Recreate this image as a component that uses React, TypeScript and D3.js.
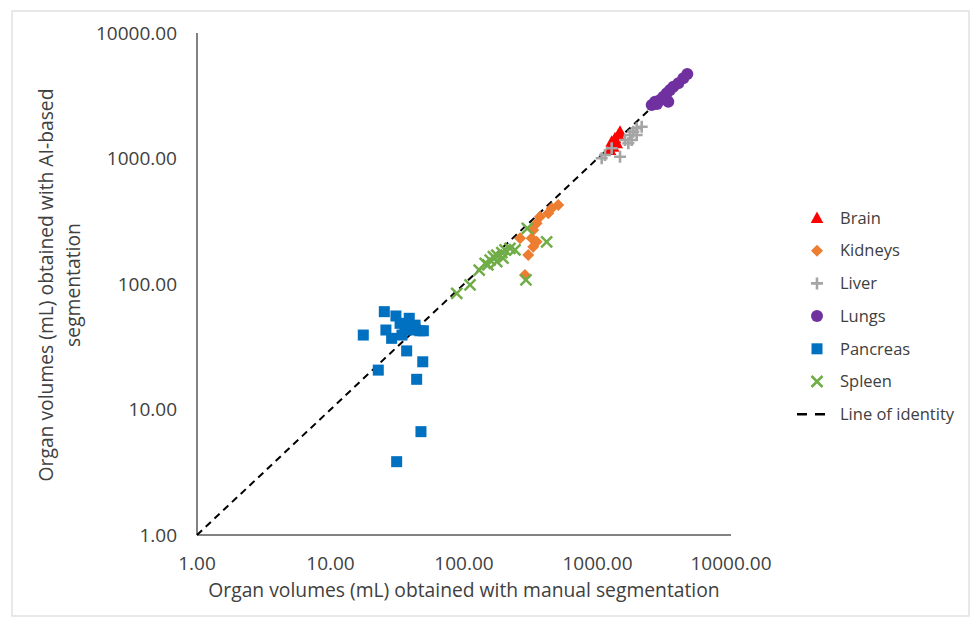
import React from "react";
import * as d3 from "d3";

// manual (x) vs AI-based (y) volumes, mL
const brainX = [1277, 1352, 1432, 1475, 1313, 1241, 1393];
const brainY = [1361, 1449, 1539, 1636, 1242, 1169, 1322];

const kidneysX = [508, 454, 428, 371, 350, 330, 321, 263, 350, 330, 303, 286];
const kidneysY = [426, 401, 366, 344, 305, 269, 231, 231, 217, 198, 170, 118];

const liverX = [1075, 1138, 1277, 1475, 1607, 1751, 1855, 1966, 2143, 1701, 1803, 1966];
const liverY = [1004, 1066, 1206, 1033, 1404, 1539, 1636, 1740, 1793, 1322, 1404, 1539];

const lungsX = [2547, 2697, 2940, 3112, 3298, 3493, 3698, 4031, 4393, 4706, 3390, 2790];
const lungsY = [2669, 2837, 2925, 3110, 3311, 3515, 3735, 3973, 4357, 4713, 2837, 2718];

const pancreasX = [25.3, 30.9, 38.9, 33.2, 17.6, 26.0, 28.7, 36.1, 40.6, 46.8, 49.6, 37.2, 49.1, 22.8, 44.2, 47.6, 31.3, 43.0, 34.3];
const pancreasY = [60.2, 55.6, 53.3, 48.6, 39.2, 43.0, 36.9, 44.4, 43.0, 42.4, 42.4, 29.3, 24.0, 20.6, 17.4, 6.66, 3.84, 47.0, 39.2];

const spleenX = [88.2, 111, 130, 144, 157, 166, 176, 192, 203, 221, 241, 176, 298, 416, 291, 151, 196];
const spleenY = [84.3, 98.2, 129, 146, 155, 165, 170, 178, 187, 192, 187, 151, 278, 217, 108, 142, 161];

const identityLine = [1, 5000];

const tickValues = [1, 10, 100, 1000, 10000];
const legendLabels = ["Brain", "Kidneys", "Liver", "Lungs", "Pancreas", "Spleen", "Line of identity"];

const FONT = "'Open Sans', sans-serif";

type Shape = "triangle" | "diamond" | "plus" | "circle" | "square" | "cross";

function Marker({ shape, color, x, y }: { shape: Shape; color: string; x: number; y: number }) {
  const t = `translate(${x},${y})`;
  switch (shape) {
    case "triangle":
      return <path transform={t} d="M0,-6.5 L6.3,5 L-6.3,5 Z" fill={color} />;
    case "diamond":
      return <path transform={t} d="M0,-6 L6,0 L0,6 L-6,0 Z" fill={color} />;
    case "circle":
      return <circle cx={x} cy={y} r={6} fill={color} />;
    case "square":
      return <rect x={x - 5.5} y={y - 5.5} width={11} height={11} fill={color} />;
    case "plus":
      return <path transform={t} d="M-6,0 H6 M0,-6 V6" stroke={color} strokeWidth={2.6} fill="none" />;
    case "cross":
      return <path transform={t} d="M-5.5,-5.5 L5.5,5.5 M-5.5,5.5 L5.5,-5.5" stroke={color} strokeWidth={2.5} fill="none" />;
  }
}

export default function App() {
  const W = 970, H = 617;
  const x = d3.scaleLog().domain([1, 10000]).range([197, 731]);
  const y = d3.scaleLog().domain([1, 10000]).range([535, 33]);
  const fmt = d3.format(".2f");

  const series: { name: string; shape: Shape; color: string; xs: number[]; ys: number[] }[] = [
    { name: "Pancreas", shape: "square", color: "#0070C0", xs: pancreasX, ys: pancreasY },
    { name: "Spleen", shape: "cross", color: "#70AD47", xs: spleenX, ys: spleenY },
    { name: "Kidneys", shape: "diamond", color: "#ED7D31", xs: kidneysX, ys: kidneysY },
    { name: "Liver", shape: "plus", color: "#A5A5A5", xs: liverX, ys: liverY },
    { name: "Brain", shape: "triangle", color: "#FF0000", xs: brainX, ys: brainY },
    { name: "Lungs", shape: "circle", color: "#7030A0", xs: lungsX, ys: lungsY },
  ];
  const drawOrder = ["Pancreas", "Kidneys", "Spleen", "Brain", "Liver", "Lungs"];
  const legendShapes: Record<string, { shape: Shape; color: string }> = {};
  series.forEach((s) => (legendShapes[s.name] = { shape: s.shape, color: s.color }));

  const line = d3.line<number>().x((v) => x(v)).y((v) => y(v));

  return (
    <svg width={W} height={H} style={{ position: "absolute", left: 0, top: 0, background: "#fff" }}>
      <rect x={12} y={11} width={957} height={605} fill="#fff" stroke="#d9d9d9" strokeWidth={1.2} />
      <line x1={x(1)} y1={y(1)} x2={x(10000)} y2={y(1)} stroke="#595959" strokeWidth={1.5} />
      <line x1={x(1)} y1={y(1)} x2={x(1)} y2={y(10000)} stroke="#595959" strokeWidth={1.5} />
      {tickValues.map((v) => (
        <text key={"xt" + v} x={x(v)} y={570} textAnchor="middle" fontFamily={FONT} fontSize={19} fill="#404040">
          {fmt(v)}
        </text>
      ))}
      {tickValues.map((v) => (
        <text key={"yt" + v} x={177} y={y(v)} dy="0.35em" textAnchor="end" fontFamily={FONT} fontSize={19} fill="#404040">
          {fmt(v)}
        </text>
      ))}
      <text x={464} y={597} textAnchor="middle" fontFamily={FONT} fontSize={19.3} fill="#404040">
        Organ volumes (mL) obtained with manual segmentation
      </text>
      <g transform="translate(46,285) rotate(-90)">
        <text x={0} y={0} dy="0.35em" textAnchor="middle" fontFamily={FONT} fontSize={19.3} fill="#404040">
          Organ volumes (mL) obtained with AI-based
        </text>
        <text x={0} y={27} dy="0.35em" textAnchor="middle" fontFamily={FONT} fontSize={19.3} fill="#404040">
          segmentation
        </text>
      </g>
      <path d={line(identityLine) || ""} stroke="#000" strokeWidth={2} strokeDasharray="7,5" fill="none" />
      {drawOrder.map((name) => {
        const s = series.find((q) => q.name === name)!;
        return (
          <g key={name}>
            {s.xs.map((v, i) => (
              <Marker key={i} shape={s.shape} color={s.color} x={x(v)} y={y(s.ys[i])} />
            ))}
          </g>
        );
      })}
      {legendLabels.map((lab, i) => {
        const ly = 218 + i * 32.7;
        return (
          <g key={lab}>
            {i < 6 ? (
              <Marker shape={legendShapes[lab].shape} color={legendShapes[lab].color} x={817} y={ly} />
            ) : (
              <line x1={797} x2={829} y1={ly} y2={ly} stroke="#000" strokeWidth={2.5} strokeDasharray="10,8" />
            )}
            <text x={840} y={ly} dy="0.35em" fontFamily={FONT} fontSize={16.5} fill="#404040">
              {lab}
            </text>
          </g>
        );
      })}
    </svg>
  );
}
